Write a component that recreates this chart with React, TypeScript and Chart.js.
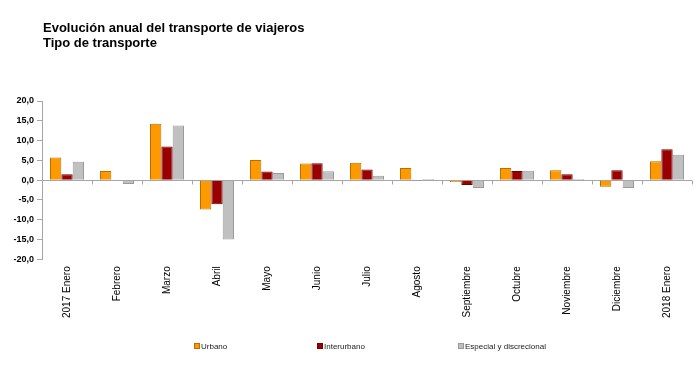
import React, { useEffect, useRef } from "react";
import { Chart, registerables } from "chart.js";

Chart.register(...registerables);

const categories = [
  "2017 Enero", "Febrero", "Marzo", "Abril", "Mayo", "Junio", "Julio",
  "Agosto", "Septiembre", "Octubre", "Noviembre", "Diciembre", "2018 Enero",
];
const urbano = [5.75, 2.3, 14.25, -7.4, 5.1, 4.2, 4.4, 3.1, -0.5, 3.1, 2.5, -1.7, 4.75];
const interurbano = [1.5, 0.1, 8.5, -6.1, 2.2, 4.3, 2.7, -0.2, -1.2, 2.3, 1.5, 2.5, 7.8];
const especial = [4.65, -1.0, 13.8, -15.0, 1.8, 2.25, 1.1, 0.3, -2.0, 2.4, 0.3, -2.0, 6.4];
const seriesNames = ["Urbano", "Interurbano", "Especial y discrecional"];
const titleLines = ["Evolución anual del transporte de viajeros", "Tipo de transporte"];

const fills = ["#FF9900", "#990000", "#C0C0C0"];
const borders = ["#B86E00", "#6E0000", "#9A9A9A"];
const FONT = "'Liberation Sans', Arial, sans-serif";

const zeroLinePlugin = {
  id: "zeroLine",
  beforeDatasetsDraw(chart: any) {
    const { ctx, scales, chartArea } = chart;
    const x = scales.x;
    const y = scales.y;
    const y0 = Math.round(y.getPixelForValue(0)) + 0.5;
    ctx.save();
    ctx.strokeStyle = "#A6A6A6";
    ctx.lineWidth = 1;
    ctx.beginPath();
    ctx.moveTo(chartArea.left, y0);
    ctx.lineTo(chartArea.right, y0);
    const n = categories.length;
    const w = (x.getPixelForValue(1) - x.getPixelForValue(0));
    for (let i = 0; i <= n; i++) {
      const px = Math.round(x.getPixelForValue(0) - w / 2 + i * w) + 0.5;
      ctx.moveTo(px, y0);
      ctx.lineTo(px, y0 + 4);
    }
    ctx.stroke();
    ctx.restore();
  },
};

export default function App() {
  const ref = useRef<HTMLCanvasElement | null>(null);
  useEffect(() => {
    if (!ref.current) return;
    const data = [urbano, interurbano, especial];
    const chart = new Chart(ref.current, {
      type: "bar",
      data: {
        labels: categories,
        datasets: data.map((d, i) => ({
          label: seriesNames[i],
          data: d,
          backgroundColor: fills[i],
          borderColor: borders[i],
          borderWidth: 1,
          categoryPercentage: 0.68,
          barPercentage: 1.0,
        })),
      },
      options: {
        responsive: false,
        animation: false,
        layout: { padding: { top: 101, right: 8, bottom: 48, left: 0 } },
        plugins: {
          legend: { display: false },
          title: { display: false },
          tooltip: { enabled: false },
        },
        scales: {
          x: {
            grid: { display: false, drawTicks: false },
            border: { display: false },
            ticks: {
              minRotation: 90,
              maxRotation: 90,
              autoSkip: false,
              padding: 7,
              color: "#000",
              font: { family: FONT, size: 10 },
            },
          },
          y: {
            min: -20,
            max: 20,
            grid: {
              drawOnChartArea: false,
              drawTicks: true,
              tickLength: 5,
              color: "#A6A6A6",
            },
            border: { display: true, color: "#A6A6A6" },
            ticks: {
              stepSize: 5,
              padding: 3,
              color: "#000",
              font: { family: FONT, size: 9, weight: "bold" },
              callback: (v: any) => Number(v).toFixed(1).replace(".", ","),
            },
            afterFit: (s: any) => {
              s.width = 42;
            },
          },
        },
      },
      plugins: [zeroLinePlugin],
    });
    return () => chart.destroy();
  }, []);

  const legendX = [194, 317, 458];
  return (
    <div style={{ position: "fixed", left: 0, top: 0, width: 700, height: 373, background: "#fff", fontFamily: FONT }}>
      <canvas ref={ref} width={700} height={373} style={{ position: "absolute", left: 0, top: 0 }} />
      <div style={{ position: "absolute", left: 43, top: 20, fontSize: 13, fontWeight: "bold", lineHeight: "15px", color: "#000", whiteSpace: "nowrap" }}>
        {titleLines.map((t) => (
          <div key={t}>{t}</div>
        ))}
      </div>
      {seriesNames.map((name, i) => (
        <div key={name} style={{ position: "absolute", left: legendX[i], top: 340, height: 12, display: "flex", alignItems: "center", fontSize: 8, color: "#222", whiteSpace: "nowrap" }}>
          <span style={{ display: "inline-block", width: 4, height: 4, background: fills[i], border: `1px solid ${borders[i]}`, marginRight: 1 }} />
          <span>{name}</span>
        </div>
      ))}
    </div>
  );
}
